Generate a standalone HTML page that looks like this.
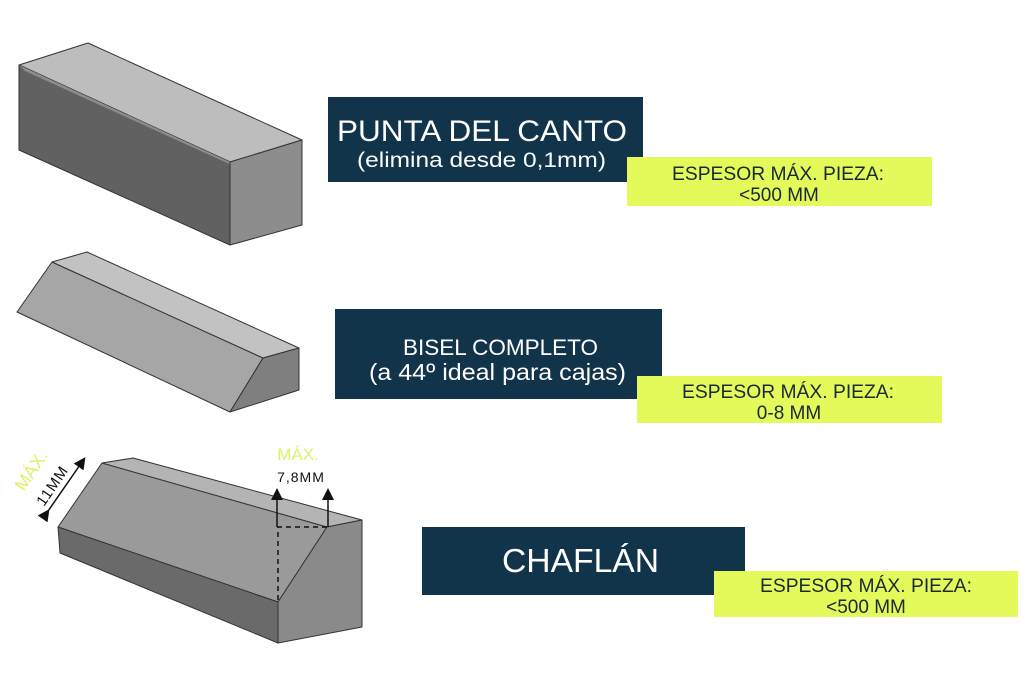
<!DOCTYPE html>
<html><head><meta charset="utf-8"><style>
html,body{margin:0;padding:0;background:#fff;}
svg{display:block;}
text{font-family:"Liberation Sans",sans-serif;}
</style></head><body>
<svg width="1030" height="684" viewBox="0 0 1030 684" xmlns="http://www.w3.org/2000/svg">
<defs><marker id="ah" markerWidth="8" markerHeight="8" refX="4" refY="4" orient="auto"><path d="M0,0 L8,4 L0,8 z" fill="#111"/></marker></defs>
<rect width="1030" height="684" fill="#fff"/>
<g stroke="#333" stroke-width="1" stroke-linejoin="round">
<polygon points="19,65 88,43 302,140 230,162" fill="#bdbdbd"/>
<polygon points="19,65 230,162 230,245 19,150" fill="#616161"/>
<polygon points="19,65 25,71 236,167 230,162" fill="#8c8c8c" stroke="none"/>
<polygon points="230,162 302,140 302,225 230,245" fill="#8d8d8d"/>
<polygon points="17,312 52,262 263,358 230,412" fill="#a6a6a6"/>
<polygon points="52,262 87,252 299,348 263,358" fill="#c2c2c2"/>
<polygon points="263,358 299,348 299,390 230,412" fill="#7f7f7f"/>
<polygon points="58,527 102,463 327,527 278,602" fill="#9a9a9a"/>
<polygon points="102,463 133,458 362,520 327,527" fill="#b4b4b4"/>
<polygon points="58,527 278,602 278,643 60,553" fill="#6a6a6a"/>
<polygon points="278,602 327,527 362,520 362,627 278,643" fill="#8a8a8a"/>
</g>
<g stroke="#111" stroke-width="1.5" fill="none">
<path d="M278,600 L278,527 L328,527" stroke-dasharray="5,4"/>
<line x1="277" y1="527" x2="277" y2="494" marker-end="url(#ah)"/>
<line x1="328" y1="527" x2="328" y2="494" marker-end="url(#ah)"/>
<line x1="46" y1="514" x2="82" y2="462" marker-end="url(#ah)" marker-start="url(#ah)"/>
</g>
<text x="298" y="460" font-size="17" fill="#dff06a" text-anchor="middle">MÁX.</text>
<text x="301" y="482" font-size="14" fill="#111" text-anchor="middle" letter-spacing="1">7,8MM</text>
<text transform="translate(24,492) rotate(-56)" font-size="18" fill="#dff06a">MÁX.</text>
<text transform="translate(44,507) rotate(-56)" font-size="15" fill="#111" letter-spacing="1">11MM</text>

<rect x="328" y="97" width="315" height="85" fill="#12344a"/>
<text x="337" y="141" font-size="30" fill="#fff" textLength="290" lengthAdjust="spacingAndGlyphs">PUNTA DEL CANTO</text>
<text x="357" y="167" font-size="21" fill="#fff" textLength="249" lengthAdjust="spacingAndGlyphs">(elimina desde 0,1mm)</text>
<rect x="627" y="157" width="305" height="49" fill="#e4f95a"/>
<text x="672" y="180" font-size="19" fill="#1a2a30" textLength="212" lengthAdjust="spacingAndGlyphs">ESPESOR MÁX. PIEZA:</text>
<text x="779" y="201" font-size="19" fill="#1a2a30" text-anchor="middle">&lt;500 MM</text>

<rect x="335" y="309" width="327" height="90" fill="#12344a"/>
<text x="403" y="355" font-size="22" fill="#fff" textLength="195" lengthAdjust="spacingAndGlyphs">BISEL COMPLETO</text>
<text x="369" y="380" font-size="23" fill="#fff" textLength="257" lengthAdjust="spacingAndGlyphs">(a 44º ideal para cajas)</text>
<rect x="637" y="376" width="305" height="47" fill="#e4f95a"/>
<text x="682" y="398" font-size="19" fill="#1a2a30" textLength="212" lengthAdjust="spacingAndGlyphs">ESPESOR MÁX. PIEZA:</text>
<text x="789" y="419" font-size="19" fill="#1a2a30" text-anchor="middle">0-8 MM</text>

<rect x="422" y="527" width="323" height="68" fill="#12344a"/>
<text x="502" y="572" font-size="33" fill="#fff" textLength="157" lengthAdjust="spacingAndGlyphs">CHAFLÁN</text>
<rect x="714" y="571" width="304" height="46" fill="#e4f95a"/>
<text x="760" y="592" font-size="19" fill="#1a2a30" textLength="212" lengthAdjust="spacingAndGlyphs">ESPESOR MÁX. PIEZA:</text>
<text x="866" y="613" font-size="19" fill="#1a2a30" text-anchor="middle">&lt;500 MM</text>
</svg>
</body></html>
